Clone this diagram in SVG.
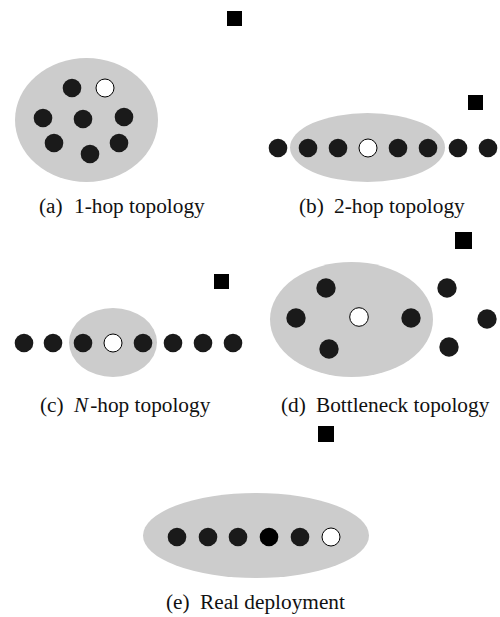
<svg xmlns="http://www.w3.org/2000/svg" width="500" height="617" viewBox="0 0 500 617">
<style>
.area{fill:#cccccc}
.n{fill:#1a1a1a}
.k{fill:#000000}
.w{fill:#ffffff;stroke:#000000;stroke-width:1}
.sq{fill:#000000}
.cap{font-family:"Liberation Serif","Times New Roman",serif;font-size:21.3px;fill:#111}
</style>
<rect width="500" height="617" fill="#ffffff"/>

<g id="topo-a">
  <rect class="sq" x="227" y="11" width="15" height="15"/>
  <ellipse class="area" cx="86.5" cy="120" rx="71.5" ry="62"/>
  <circle class="n" cx="72" cy="88" r="9.3"/>
  <circle class="w" cx="105" cy="88" r="9"/>
  <circle class="n" cx="43" cy="118" r="9.3"/>
  <circle class="n" cx="83" cy="119" r="9.3"/>
  <circle class="n" cx="124" cy="117" r="9.3"/>
  <circle class="n" cx="54" cy="143" r="9.3"/>
  <circle class="n" cx="119" cy="143" r="9.3"/>
  <circle class="n" cx="90" cy="154" r="9.3"/>
  <text class="cap" y="213"><tspan x="39">(a)</tspan><tspan x="74">1-hop topology</tspan></text>
</g>

<g id="topo-b">
  <rect class="sq" x="468" y="95" width="15" height="15"/>
  <ellipse class="area" cx="367.5" cy="147.5" rx="77.5" ry="34.5"/>
  <circle class="n" cx="278" cy="148" r="9.3"/>
  <circle class="n" cx="308" cy="148" r="9.3"/>
  <circle class="n" cx="338" cy="148" r="9.3"/>
  <circle class="w" cx="368" cy="148" r="9"/>
  <circle class="n" cx="398" cy="148" r="9.3"/>
  <circle class="n" cx="428" cy="148" r="9.3"/>
  <circle class="n" cx="458" cy="148" r="9.3"/>
  <circle class="n" cx="488" cy="148" r="9.3"/>
  <text class="cap" y="213"><tspan x="299">(b)</tspan><tspan x="334">2-hop topology</tspan></text>
</g>

<g id="topo-c">
  <rect class="sq" x="214" y="274" width="15" height="15"/>
  <ellipse class="area" cx="113" cy="342.5" rx="44" ry="34.5"/>
  <circle class="n" cx="24" cy="343" r="9.3"/>
  <circle class="n" cx="53" cy="343" r="9.3"/>
  <circle class="n" cx="83" cy="343" r="9.3"/>
  <circle class="w" cx="113" cy="343" r="9"/>
  <circle class="n" cx="143" cy="343" r="9.3"/>
  <circle class="n" cx="173" cy="343" r="9.3"/>
  <circle class="n" cx="203" cy="343" r="9.3"/>
  <circle class="n" cx="233" cy="343" r="9.3"/>
  <text class="cap" y="412"><tspan x="40">(c)</tspan><tspan x="74" font-style="italic">N</tspan><tspan dx="2">-hop topology</tspan></text>
</g>

<g id="topo-d">
  <rect class="sq" x="455" y="232" width="17" height="17"/>
  <ellipse class="area" cx="351.5" cy="319.5" rx="81.5" ry="57.5"/>
  <circle class="n" cx="326" cy="288" r="9.7"/>
  <circle class="n" cx="296" cy="318" r="9.7"/>
  <circle class="w" cx="359" cy="317" r="9.3"/>
  <circle class="n" cx="411" cy="318" r="9.7"/>
  <circle class="n" cx="329" cy="349" r="9.7"/>
  <circle class="n" cx="447" cy="288" r="9.7"/>
  <circle class="n" cx="487" cy="319" r="9.7"/>
  <circle class="n" cx="449" cy="347" r="9.7"/>
  <text class="cap" y="412"><tspan x="281">(d)</tspan><tspan x="316">Bottleneck topology</tspan></text>
</g>

<g id="topo-e">
  <rect class="sq" x="318" y="426" width="16" height="16"/>
  <ellipse class="area" cx="256" cy="535.5" rx="113" ry="42.5"/>
  <circle class="n" cx="177" cy="537" r="9.3"/>
  <circle class="n" cx="208" cy="537" r="9.3"/>
  <circle class="n" cx="238" cy="537" r="9.3"/>
  <circle class="k" cx="269" cy="537" r="9.3"/>
  <circle class="n" cx="300" cy="537" r="9.3"/>
  <circle class="w" cx="331" cy="537" r="9"/>
  <text class="cap" y="609"><tspan x="166">(e)</tspan><tspan x="200">Real deployment</tspan></text>
</g>
</svg>
